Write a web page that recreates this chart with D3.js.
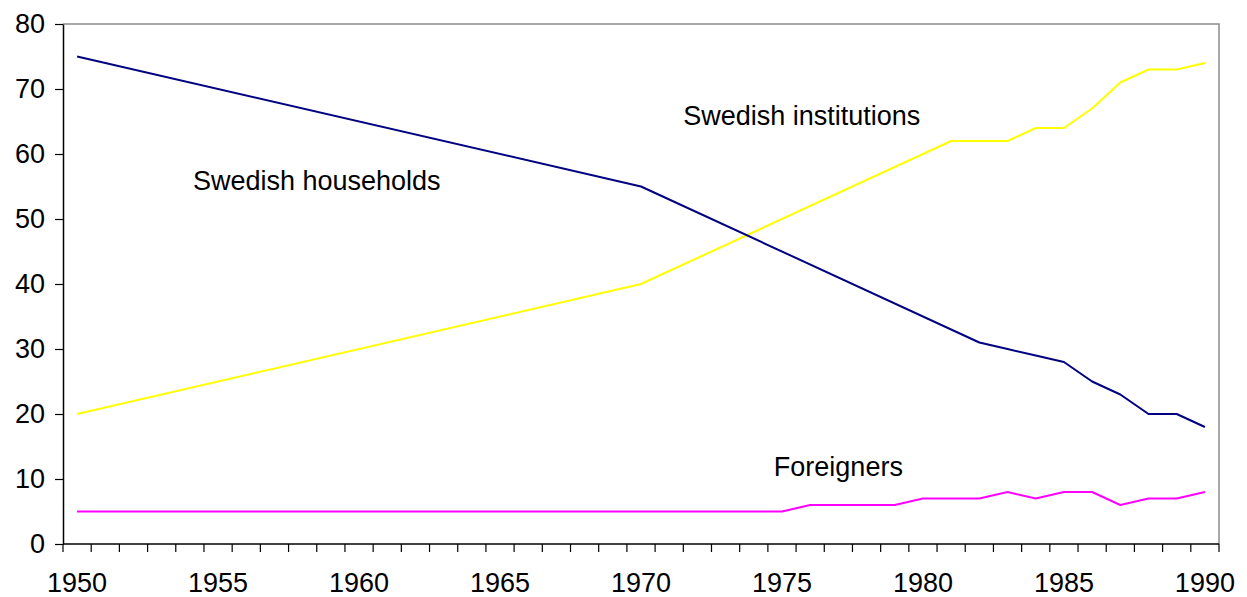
<!DOCTYPE html>
<html>
<head>
<meta charset="utf-8">
<script src="https://cdn.jsdelivr.net/npm/d3@7"></script>
<style>
  html, body { margin: 0; padding: 0; background: #fff; }
  svg { display: block; font-family: Arial, "Liberation Sans", sans-serif; }
</style>
</head>
<body>
<svg id="chart" width="1247" height="597"></svg>
<script>
// ---- data ----
const categories = d3.range(1950, 1991);            // one category per year
const xTickLabels = [1950, 1955, 1960, 1965, 1970, 1975, 1980, 1985, 1990];
const yTickValues = [0, 10, 20, 30, 40, 50, 60, 70, 80];

const householdsYears  = [1950, 1970, 1982, 1983, 1984, 1985, 1986, 1987, 1988, 1989, 1990];
const householdsValues = [75,   55,   31,   30,   29,   28,   25,   23,   20,   20,   18];

const institutionsYears  = [1950, 1970, 1981, 1982, 1983, 1984, 1985, 1986, 1987, 1988, 1989, 1990];
const institutionsValues = [20,   40,   62,   62,   62,   64,   64,   67,   71,   73,   73,   74];

const foreignersYears  = [1950, 1975, 1976, 1979, 1980, 1982, 1983, 1984, 1985, 1986, 1987, 1988, 1989, 1990];
const foreignersValues = [5,    5,    6,    6,    7,    7,    8,    7,    8,    8,    6,    7,    7,    8];

const seriesLabels = [
  { name: "Swedish households",   year: 1958.5, value: 54.4 },
  { name: "Swedish institutions", year: 1975.7, value: 64.4 },
  { name: "Foreigners",           year: 1977.0, value: 10.5 }
];

// ---- layout ----
const svg = d3.select("#chart");
const m = { left: 63, right: 1219, top: 24, bottom: 544 };

const x = d3.scaleBand().domain(categories).range([m.left, m.right]).padding(0);
const bw = x.bandwidth();
const xc = yr => x(yr) + bw / 2;
const xLin = d3.scaleLinear().domain([1950, 1990]).range([xc(1950), xc(1990)]);
const y = d3.scaleLinear().domain([0, 80]).range([m.bottom, m.top]);

// frame: top & right gray
svg.append("path")
  .attr("d", `M${m.left},${m.top}H${m.right}V${m.bottom}`)
  .attr("fill", "none").attr("stroke", "#8c8c8c").attr("stroke-width", 1.5);

// y axis
const yAxis = d3.axisLeft(y).tickValues(yTickValues).tickSize(8).tickPadding(10).tickSizeOuter(0);
const gy = svg.append("g").attr("transform", `translate(${m.left},0)`).call(yAxis);
gy.select(".domain").attr("stroke", "#000").attr("stroke-width", 1.5);
gy.selectAll(".tick line").attr("stroke", "#000").attr("stroke-width", 1.2);
gy.selectAll(".tick text").attr("font-size", 27).attr("fill", "#000")
  .attr("font-family", "Arial, 'Liberation Sans', sans-serif");

// x axis: ticks at category boundaries
const gx = svg.append("g");
gx.append("line").attr("x1", m.left).attr("x2", m.right).attr("y1", m.bottom).attr("y2", m.bottom)
  .attr("stroke", "#000").attr("stroke-width", 1.5);
const boundaries = categories.map(c => x(c)).concat([x(categories[categories.length - 1]) + bw]);
gx.selectAll("line.tk").data(boundaries).join("line").attr("class", "tk")
  .attr("x1", d => d).attr("x2", d => d).attr("y1", m.bottom).attr("y2", m.bottom + 8)
  .attr("stroke", "#000").attr("stroke-width", 1.2);
gx.selectAll("text").data(xTickLabels).join("text")
  .attr("x", d => xc(d)).attr("y", m.bottom + 48)
  .attr("text-anchor", "middle").attr("font-size", 27).attr("fill", "#000")
  .text(d => d);

// lines
const line = d3.line().x(d => xc(d[0])).y(d => y(d[1]));
const series = [
  { years: institutionsYears, values: institutionsValues, color: "#ffff00" },
  { years: householdsYears,   values: householdsValues,   color: "#000080" },
  { years: foreignersYears,   values: foreignersValues,   color: "#ff00ff" }
];
series.forEach(s => {
  const pts = s.years.map((yr, i) => [yr, s.values[i]]);
  svg.append("path").datum(pts).attr("d", line)
    .attr("fill", "none").attr("stroke", s.color).attr("stroke-width", 2)
    .attr("stroke-linejoin", "round");
});

// series labels
svg.selectAll("text.lbl").data(seriesLabels).join("text").attr("class", "lbl")
  .attr("x", d => xLin(d.year)).attr("y", d => y(d.value))
  .attr("text-anchor", "middle").attr("font-size", 27).attr("fill", "#000")
  .text(d => d.name);
</script>
</body>
</html>
